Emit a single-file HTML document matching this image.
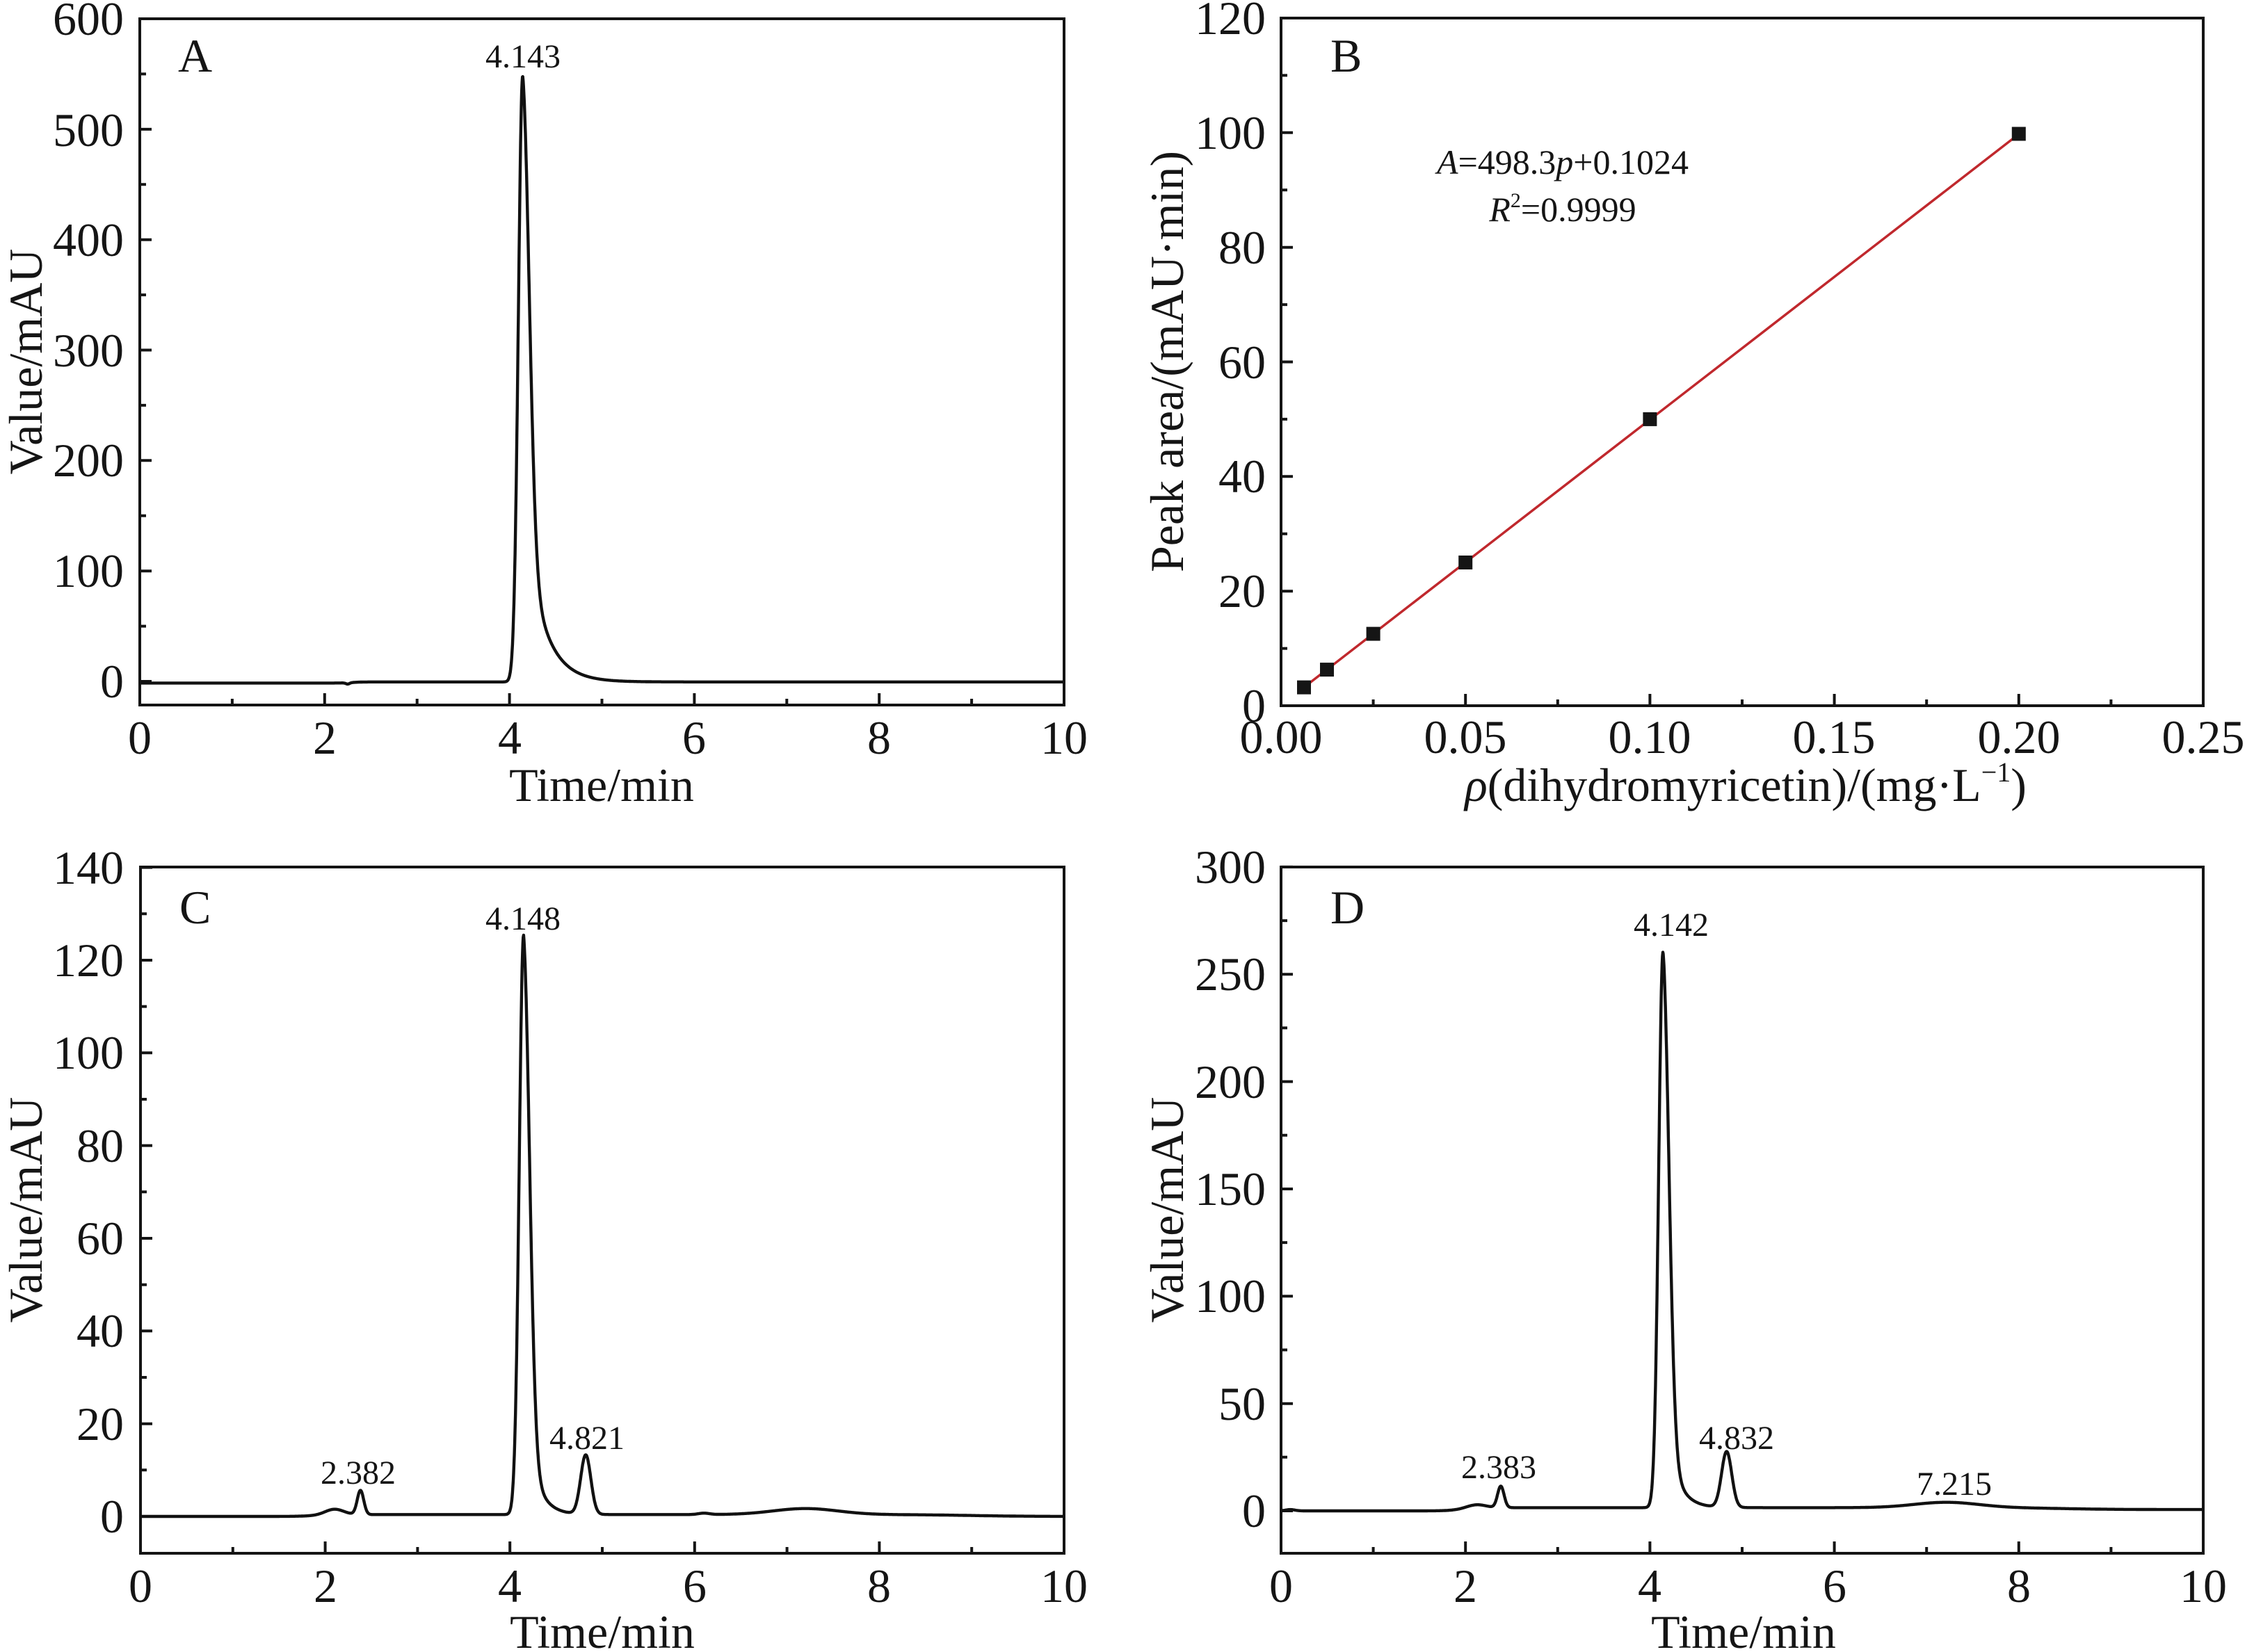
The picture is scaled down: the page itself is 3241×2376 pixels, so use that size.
<!DOCTYPE html>
<html>
<head>
<meta charset="utf-8">
<style>
  html,body{margin:0;padding:0;background:#fff;}
  svg{display:block;}
  text{font-family:"Liberation Serif","Times New Roman",serif;fill:#151515;}
</style>
</head>
<body>
<svg id="s" xmlns="http://www.w3.org/2000/svg" width="3241" height="2376" viewBox="0 0 3241 2376">
  <rect x="0" y="0" width="3241" height="2376" fill="#fff"/>

  <!-- axis boxes -->
  <g fill="none" stroke="#141414" stroke-width="4">
    <rect x="201" y="27" width="1329" height="987"/>
    <rect x="1842" y="26" width="1326" height="989"/>
    <rect x="202" y="1247" width="1328" height="987"/>
    <rect x="1842" y="1247" width="1326" height="987"/>
  </g>

  <g id="dyn"></g>

  <!-- Panel B fit line and markers -->
  <line x1="1875" y1="988.5" x2="2903" y2="192.8" stroke="#c0282d" stroke-width="3.5"/>
  <g fill="#151515">
    <rect x="1865" y="978.6" width="20" height="20"/>
    <rect x="1898" y="953.1" width="20" height="20"/>
    <rect x="1964.6" y="901.6" width="20" height="20"/>
    <rect x="2097.2" y="799" width="20" height="20"/>
    <rect x="2362.4" y="592.9" width="20" height="20"/>
    <rect x="2892.8" y="182.5" width="20" height="20"/>
  </g>

  <!-- Panel A text -->
  <g font-size="68" text-anchor="end">
    <text x="178" y="50">600</text>
    <text x="178" y="210">500</text>
    <text x="178" y="368">400</text>
    <text x="178" y="527">300</text>
    <text x="178" y="685">200</text>
    <text x="178" y="844">100</text>
    <text x="178" y="1003">0</text>
  </g>
  <g font-size="68" text-anchor="middle">
    <text x="201" y="1084">0</text>
    <text x="467" y="1084">2</text>
    <text x="733" y="1084">4</text>
    <text x="998" y="1084">6</text>
    <text x="1264" y="1084">8</text>
    <text x="1530" y="1084">10</text>
    <text x="865" y="1152">Time/min</text>
    <text transform="translate(60,520) rotate(-90)">Value/mAU</text>
  </g>
  <text x="256" y="103" font-size="68">A</text>
  <text x="752" y="97" font-size="48" text-anchor="middle">4.143</text>

  <!-- Panel B text -->
  <g font-size="68" text-anchor="end">
    <text x="1820" y="1038">0</text>
    <text x="1820" y="873">20</text>
    <text x="1820" y="708">40</text>
    <text x="1820" y="544">60</text>
    <text x="1820" y="379">80</text>
    <text x="1820" y="214">100</text>
    <text x="1820" y="49">120</text>
  </g>
  <g font-size="68" text-anchor="middle">
    <text x="1842" y="1083">0.00</text>
    <text x="2107" y="1083">0.05</text>
    <text x="2372" y="1083">0.10</text>
    <text x="2637" y="1083">0.15</text>
    <text x="2903" y="1083">0.20</text>
    <text x="3168" y="1083">0.25</text>
    <text x="2510" y="1152"><tspan font-style="italic">ρ</tspan>(dihydromyricetin)/(mg·L<tspan dy="-28" font-size="40">−1</tspan><tspan dy="28">)</tspan></text>
    <text transform="translate(1701,520) rotate(-90)">Peak area/(mAU·min)</text>
  </g>
  <text x="1913" y="103" font-size="68">B</text>
  <text x="2247" y="250" font-size="50" text-anchor="middle"><tspan font-style="italic">A</tspan>=498.3<tspan font-style="italic">p</tspan>+0.1024</text>
  <text x="2247" y="318" font-size="50" text-anchor="middle"><tspan font-style="italic">R</tspan><tspan font-size="30" dy="-20">2</tspan><tspan dy="20">=0.9999</tspan></text>

  <!-- Panel C text -->
  <g font-size="68" text-anchor="end">
    <text x="178" y="2204">0</text>
    <text x="178" y="2071">20</text>
    <text x="178" y="1937">40</text>
    <text x="178" y="1804">60</text>
    <text x="178" y="1671">80</text>
    <text x="178" y="1537">100</text>
    <text x="178" y="1404">120</text>
    <text x="178" y="1271">140</text>
  </g>
  <g font-size="68" text-anchor="middle">
    <text x="202" y="2304">0</text>
    <text x="468" y="2304">2</text>
    <text x="733" y="2304">4</text>
    <text x="999" y="2304">6</text>
    <text x="1264" y="2304">8</text>
    <text x="1530" y="2304">10</text>
    <text x="866" y="2370">Time/min</text>
    <text transform="translate(60,1740) rotate(-90)">Value/mAU</text>
  </g>
  <text x="258" y="1328" font-size="68">C</text>
  <g font-size="48" text-anchor="middle">
    <text x="752" y="1337">4.148</text>
    <text x="515" y="2134">2.382</text>
    <text x="844" y="2084">4.821</text>
  </g>

  <!-- Panel D text -->
  <g font-size="68" text-anchor="end">
    <text x="1820" y="2196">0</text>
    <text x="1820" y="2042">50</text>
    <text x="1820" y="1887">100</text>
    <text x="1820" y="1733">150</text>
    <text x="1820" y="1579">200</text>
    <text x="1820" y="1424">250</text>
    <text x="1820" y="1270">300</text>
  </g>
  <g font-size="68" text-anchor="middle">
    <text x="1842" y="2304">0</text>
    <text x="2107" y="2304">2</text>
    <text x="2372" y="2304">4</text>
    <text x="2638" y="2304">6</text>
    <text x="2903" y="2304">8</text>
    <text x="3168" y="2304">10</text>
    <text x="2507" y="2370">Time/min</text>
    <text transform="translate(1701,1740) rotate(-90)">Value/mAU</text>
  </g>
  <text x="1913" y="1328" font-size="68">D</text>
  <g font-size="48" text-anchor="middle">
    <text x="2403" y="1346">4.142</text>
    <text x="2155" y="2126">2.383</text>
    <text x="2497" y="2084">4.832</text>
    <text x="2810" y="2150">7.215</text>
  </g>
</svg>

<script>
(function(){
  var NS="http://www.w3.org/2000/svg";
  var dyn=document.getElementById("dyn");
  function addPath(d,stroke,sw){
    var p=document.createElementNS(NS,"path");
    p.setAttribute("d",d);p.setAttribute("fill","none");
    p.setAttribute("stroke",stroke);p.setAttribute("stroke-width",sw);
    p.setAttribute("stroke-linejoin","round");p.setAttribute("stroke-linecap","butt");
    dyn.appendChild(p);
  }
  function g(x,x0,h,s){var d=x-x0;return h*Math.exp(-d*d/(2*s*s));}
  function tp(x,x0,h,sL,a,sR,tau){var d=x-x0;if(d<0)return h*Math.exp(-d*d/(2*sL*sL));
    return h*(a*Math.exp(-d*d/(2*sR*sR))+(1-a)*Math.exp(-d/tau));}
  function sig(x,x0,w){return 1/(1+Math.exp(-(x-x0)/w));}

  function ticks(P){
    var d="";
    P.xmaj.forEach(function(v){var x=P.x0+v*P.xs;d+="M"+x.toFixed(1)+" "+P.B+"v-17";});
    P.xmin.forEach(function(v){var x=P.x0+v*P.xs;d+="M"+x.toFixed(1)+" "+P.B+"v-9";});
    P.ymaj.forEach(function(v){var y=P.y0-v*P.ys;d+="M"+P.L+" "+y.toFixed(1)+"h17";});
    P.ymin.forEach(function(v){var y=P.y0-v*P.ys;d+="M"+P.L+" "+y.toFixed(1)+"h9";});
    addPath(d,"#141414",4);
  }
  function range(a,b,s){var r=[];for(var v=a;v<=b+1e-9;v+=s)r.push(Math.round(v*1000)/1000);return r;}

  function signal(P,fn){
    var d="";
    for(var i=0;i<=2500;i++){
      var t=i*10/2500;
      var x=P.x0+t*P.xs, y=P.y0-fn(t)*P.ys;
      d+=(i?"L":"M")+x.toFixed(1)+" "+y.toFixed(1);
    }
    addPath(d,"#111",4.4);
  }

  var A={L:201,B:1014,x0:201,xs:132.9,y0:980,ys:1.5883,
    xmaj:range(0,10,2),xmin:range(1,9,2),ymaj:range(0,600,100),ymin:range(50,550,100)};
  var Bp={L:1842,B:1015,x0:1842,xs:5304,y0:1015,ys:8.2417,
    xmaj:range(0,0.25,0.05),xmin:range(0.025,0.225,0.05),ymaj:range(0,120,20),ymin:range(10,110,20)};
  var C={L:202,B:2234,x0:202,xs:132.8,y0:2181,ys:6.667,
    xmaj:range(0,10,2),xmin:range(1,9,2),ymaj:range(0,140,20),ymin:range(10,130,20)};
  var D={L:1842,B:2234,x0:1842,xs:132.6,y0:2173,ys:3.087,
    xmaj:range(0,10,2),xmin:range(1,9,2),ymaj:range(0,300,50),ymin:range(25,275,50)};

  ticks(A);ticks(Bp);ticks(C);ticks(D);

  signal(A,function(x){
    return -1.5+1.0*sig(x,2.3,0.05)+g(x,2.25,-1.2,0.02)+tp(x,4.143,549,0.047,0.7,0.072,0.2);
  });
  signal(C,function(x){
    return 0.4*sig(x,1.9,0.1)*(1-sig(x,9,0.3))+g(x,2.1,1.2,0.1)+g(x,2.382,5.2,0.035)
      +tp(x,4.148,125,0.047,0.8,0.066,0.12)+g(x,4.821,12.8,0.055)+g(x,7.2,1.3,0.35)+g(x,6.1,0.3,0.06);
  });
  signal(D,function(x){
    return 1.5*sig(x,1.95,0.08)*(1-0.6*sig(x,8.5,0.3))+g(x,2.12,1.5,0.1)+g(x,2.383,10,0.035)
      +tp(x,4.142,259,0.047,0.8,0.066,0.12)+g(x,4.832,26,0.055)+g(x,7.215,2.5,0.35)+g(x,0.1,0.6,0.05);
  });
})();
</script>
</body>
</html>
